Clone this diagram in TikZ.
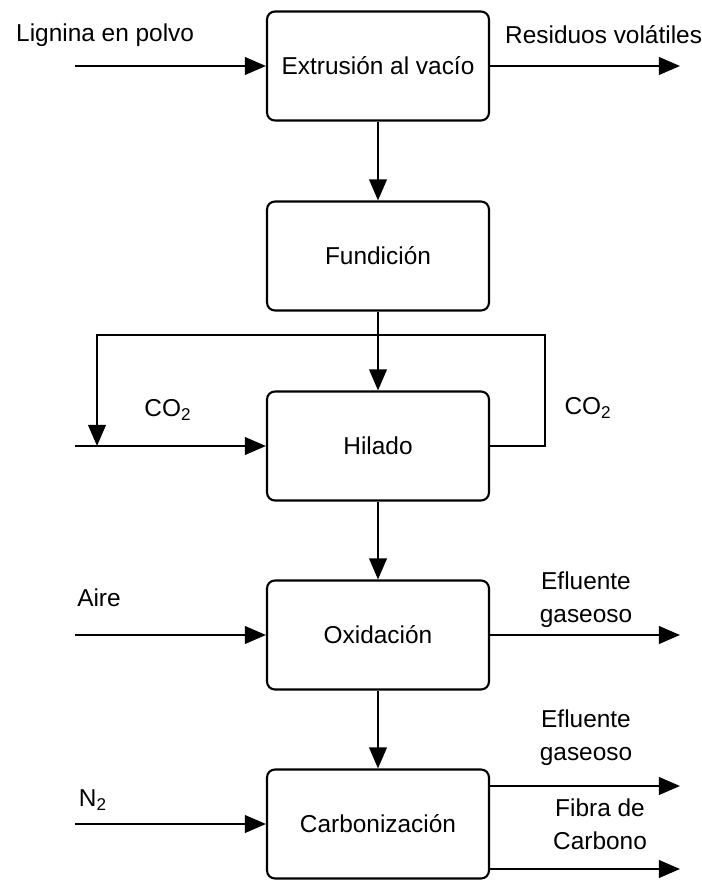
\documentclass[tikz,border=0pt]{standalone}
\usepackage{fontspec}
\setmainfont{Liberation Sans}
\usepackage{tikz}
\usetikzlibrary{arrows.meta}

\begin{document}
\begin{tikzpicture}[x=0.02cm, y=-0.02cm,
    every node/.style={font=\fontsize{13.9}{18.7}\selectfont},
    block/.style={draw, line width=1.2pt, rounded corners=4.5pt,
        minimum width=4.44cm, minimum height=2.18cm, inner sep=0pt},
    flow/.style={line width=1.3pt, -{Triangle[length=12pt,width=10pt]}},
    pipe/.style={line width=1.3pt}]
    \useasboundingbox (0,0) rectangle (702,881);

    % Process blocks
    \node[block] (ext) at (378,66) {Extrusión al vacío};
    \node[block] (fun) at (378,256) {Fundición};
    \node[block] (hil) at (378,446) {Hilado};
    \node[block] (oxi) at (378,635) {Oxidación};
    \node[block] (car) at (378,824) {Carbonización};

    % Main line
    \foreach \a/\b in {ext/fun, fun/hil, hil/oxi, oxi/car}
        \draw[flow] (\a) -- (\b);

    % Feeds and outlets
    \coordinate (lig) at (75,66);
    \coordinate (res) at (680,66);
    \coordinate (co2in) at (75,446);
    \coordinate (aire) at (75,635);
    \coordinate (eflA) at (680,635);
    \coordinate (ntwo) at (75,824);
    \coordinate (eflB) at (680,786);
    \coordinate (fibra) at (680,869);

    \draw[flow] (lig) -- (ext);
    \draw[flow] (ext) -- (res);
    \draw[flow] (co2in) -- (hil);
    \draw[flow] (aire) -- (oxi);
    \draw[flow] (oxi) -- (eflA);
    \draw[flow] (ntwo) -- (car);
    \draw[flow] (car.east |- eflB) -- (eflB);
    \draw[flow] (car.east |- fibra) -- (fibra);

    % CO2 recycle
    \coordinate (rloop) at (545,335);
    \coordinate (lloop) at (97,335);
    \draw[flow] (hil.east) -| (rloop) -- (lloop) -- (lloop |- co2in);

    % Labels
    \node[anchor=west] (ligtxt) at (10,35) {Lignina en polvo};
    \node[anchor=west] (restxt) at (499,35) {Residuos volátiles};
    \node (co2a) at (168,410) {CO\textsubscript{2}};
    \node (co2b) at (588,408) {CO\textsubscript{2}};
    \node (airetxt) at (99,598) {Aire};
    \node[align=center] (eflAtxt) at (586,600) {Efluente\\gaseoso};
    \node (ntxt) at (93,800) {N\textsubscript{2}};
    \node[align=center] (eflBtxt) at (586,738) {Efluente\\gaseoso};
    \node[align=center] (fibtxt) at (600,824) {Fibra de\\Carbono};
\end{tikzpicture}
\end{document}
